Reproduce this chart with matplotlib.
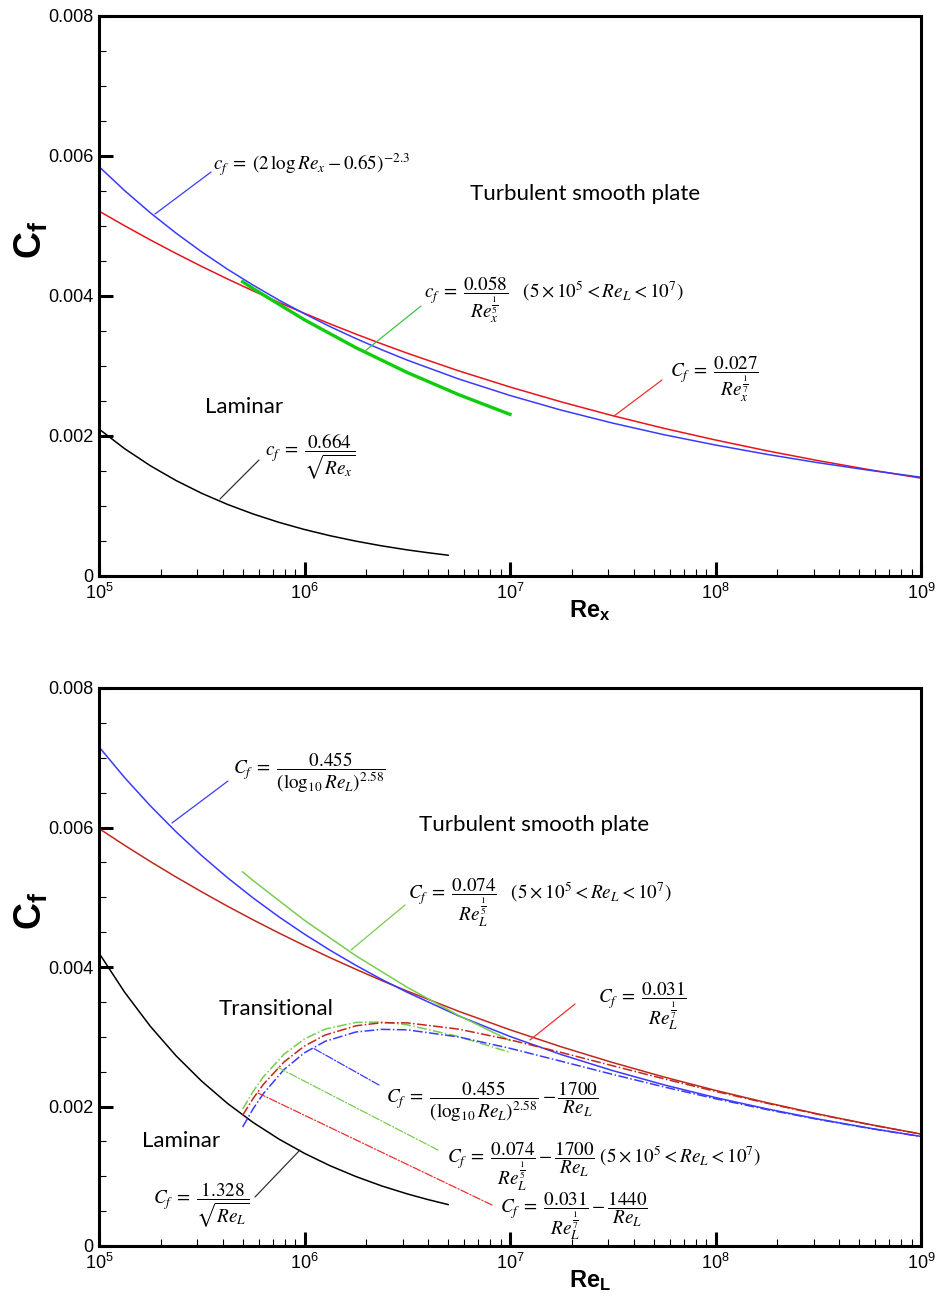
"""
Skin friction coefficient vs Reynolds number: local (top) and average (bottom).
"""
import numpy as np
import matplotlib
matplotlib.use("Agg")
import matplotlib.pyplot as plt
from matplotlib.ticker import LogLocator, MultipleLocator

plt.rcParams["font.family"] = ["Liberation Sans", "DejaVu Sans"]
plt.rcParams["mathtext.fontset"] = "custom"
plt.rcParams["mathtext.rm"] = "Liberation Sans"
plt.rcParams["mathtext.it"] = "Liberation Sans:italic"
plt.rcParams["mathtext.bf"] = "Liberation Sans:bold"

# ---- data (log10 Re, Cf) ----
LOG_RE_FULL = [5.0, 5.125, 5.25, 5.375, 5.5, 5.625, 5.75, 5.875, 6.0, 6.125, 6.25, 6.375,
               6.5, 6.75, 7.0, 7.25, 7.5, 7.75, 8.0, 8.25, 8.5, 8.75, 9.0]
LOG_RE_MID = [5.699, 5.75, 6.0, 6.25, 6.5, 6.75, 7.0]
LOG_RE_LAM = [5.0, 5.125, 5.25, 5.375, 5.5, 5.625, 5.75, 5.875, 6.0,
              6.125, 6.25, 6.375, 6.5, 6.6, 6.699]
LOG_RE_TR = [5.699, 5.75, 5.8, 5.9, 6.0, 6.1, 6.25, 6.375, 6.5, 6.75, 7.0,
             7.25, 7.5, 7.75, 8.0, 8.25, 8.5, 8.75, 9.0]

# top panel (local)
top_blue = [0.005849, 0.005505, 0.005188, 0.004898, 0.004630, 0.004383, 0.004155, 0.003942,
            0.003746, 0.003562, 0.003392, 0.003233, 0.003084, 0.002815, 0.002579,
            0.002369, 0.002184, 0.002018, 0.001871, 0.001738, 0.001618, 0.001510, 0.001411]
top_red = [0.005213, 0.005003, 0.004801, 0.004608, 0.004422, 0.004244, 0.004073, 0.003909,
           0.003752, 0.003601, 0.003456, 0.003317, 0.003183, 0.002931, 0.002700,
           0.002487, 0.002290, 0.002109, 0.001943, 0.001789, 0.001648, 0.001518, 0.001398]
top_green = [0.004204, 0.004106, 0.003660, 0.003262, 0.002907, 0.002591, 0.002309]
top_black = [0.002100, 0.001818, 0.001575, 0.001364, 0.001181, 0.001023, 0.000886, 0.000767, 0.000664,
             0.000575, 0.000498, 0.000431, 0.000373, 0.000333, 0.000297]

# bottom panel (average)
bot_blue = [0.007156, 0.006714, 0.006310, 0.005938, 0.005596, 0.005281, 0.004990, 0.004720,
            0.004471, 0.004239, 0.004024, 0.003823, 0.003637, 0.003299, 0.003004,
            0.002744, 0.002514, 0.002310, 0.002128, 0.001966, 0.001820, 0.001689, 0.001571]
bot_red = [0.005985, 0.005744, 0.005512, 0.005290, 0.005077, 0.004872, 0.004676, 0.004488,
           0.004307, 0.004133, 0.003967, 0.003807, 0.003654, 0.003365, 0.003100,
           0.002855, 0.002630, 0.002422, 0.002231, 0.002055, 0.001892, 0.001743, 0.001605]
bot_green = [0.005364, 0.005239, 0.004669, 0.004161, 0.003709, 0.003305, 0.002946]
bot_black = [0.004200, 0.003637, 0.003149, 0.002727, 0.002362, 0.002045, 0.001771, 0.001534, 0.001328,
             0.001150, 0.000996, 0.000862, 0.000747, 0.000666, 0.000594]
tr_blue = [0.001706, 0.001967, 0.002185, 0.002529, 0.002771, 0.002934, 0.003068, 0.003106, 0.003099,
           0.002997, 0.002834, 0.002648, 0.002460, 0.002280, 0.002111, 0.001956, 0.001815, 0.001686, 0.001569]
tr_red = [0.001875, 0.002115, 0.002318, 0.002638, 0.002867, 0.003024, 0.003157, 0.003201, 0.003199,
          0.003109, 0.002956, 0.002774, 0.002584, 0.002396, 0.002217, 0.002047, 0.001887, 0.001740, 0.001604]
tr_green = [0.001964, 0.002216, 0.002426, 0.002749, 0.002969, 0.003109, 0.003205, 0.003212, 0.003171,
            0.003003, 0.002776]


def re(logs):
    return 10.0 ** np.array(logs)


EQ = dict(fontsize=13.8, math_fontfamily="stix", va="baseline", ha="left")
WORD = dict(fontsize=16, family=["Lato", "DejaVu Sans"], ha="center", va="center")


def style_axes(ax, ylab, xlab):
    ax.set_xscale("log")
    ax.set_xlim(1e5, 1e9)
    ax.set_ylim(0, 0.008)
    ax.yaxis.set_minor_locator(MultipleLocator(0.0005))
    ax.xaxis.set_major_locator(LogLocator(base=10, numticks=10))
    ax.xaxis.set_minor_locator(LogLocator(base=10, subs=np.arange(2, 10), numticks=20))
    ax.set_yticks([0, 0.002, 0.004, 0.006, 0.008])
    ax.set_yticklabels(["0", "0.002", "0.004", "0.006", "0.008"])
    ax.tick_params(which="major", direction="in", length=10, width=2.2, labelsize=13,
                   top=False, right=False, pad=4)
    ax.tick_params(which="minor", direction="in", length=5, width=0.8, top=False, right=False)
    ax.tick_params(axis="x", which="major", labelsize=13, pad=5)
    for s in ax.spines.values():
        s.set_linewidth(2.2)
    ax.text(-0.082, 0.60, ylab, transform=ax.transAxes, rotation=90, fontsize=27,
            fontweight="bold", ha="center", va="center")
    ax.text(0.597, -0.062, xlab, transform=ax.transAxes, fontsize=17,
            fontweight="bold", ha="center", va="center")


def leader(ax, tip, end, color, ls="-"):
    ax.annotate("", xy=tip, xytext=end, xycoords="axes fraction", textcoords="axes fraction",
                arrowprops=dict(arrowstyle="-", color=color, lw=0.9, linestyle=ls,
                                shrinkA=0, shrinkB=0))


def main() -> None:
    fig = plt.figure(figsize=(9.4, 12.99), dpi=100)
    ax1 = fig.add_axes([99 / 940, 1 - 576 / 1299, 822 / 940, 560 / 1299])
    ax2 = fig.add_axes([99 / 940, 1 - 1246 / 1299, 822 / 940, 558 / 1299])

    # ---------- top: local skin friction ----------
    ax1.plot(re(LOG_RE_FULL), top_red, color="#e8141a", lw=1.1)
    ax1.plot(re(LOG_RE_FULL), top_blue, color="#3a3aff", lw=1.1)
    ax1.plot(re(LOG_RE_MID), top_green, color="#10cc10", lw=2.4)
    ax1.plot(re(LOG_RE_LAM), top_black, color="black", lw=1.1)
    style_axes(ax1, r"C$_\mathbf{f}$", r"Re$_\mathbf{x}$")

    leader(ax1, (0.0681, 0.6464), (0.1363, 0.7214), "#3a3aff")
    ax1.text(0.1387, 0.725, r"$c_f\;=\;(2\,\log Re_x-0.65)^{-2.3}$", transform=ax1.transAxes, **EQ)
    ax1.text(0.5912, 0.6821, "Turbulent smooth plate", transform=ax1.transAxes, **WORD)
    leader(ax1, (0.3236, 0.4018), (0.3917, 0.4821), "#44c044")
    ax1.text(0.3954, 0.4964,
             r"$c_f\;=\;\dfrac{0.058}{Re_x^{\frac{1}{5}}}\quad(5\times10^5<Re_L<10^7)$",
             transform=ax1.transAxes, **EQ)
    leader(ax1, (0.6265, 0.2857), (0.6849, 0.35), "#f03030")
    ax1.text(0.6946, 0.355, r"$C_f\;=\;\dfrac{0.027}{Re_x^{\frac{1}{7}}}$",
             transform=ax1.transAxes, **EQ)
    ax1.text(0.1764, 0.3018, "Laminar", transform=ax1.transAxes, **WORD)
    leader(ax1, (0.1472, 0.1375), (0.1946, 0.2071), "#333333")
    ax1.text(0.2019, 0.2143, r"$c_f\;=\;\dfrac{0.664}{\sqrt{Re_x}}$", transform=ax1.transAxes, **EQ)

    # ---------- bottom: average skin friction ----------
    ax2.plot(re(LOG_RE_FULL), bot_red, color="#c0281c", lw=1.1)
    ax2.plot(re(LOG_RE_FULL), bot_blue, color="#3a3aff", lw=1.1)
    ax2.plot(re(LOG_RE_MID), bot_green, color="#78cc50", lw=1.1)
    ax2.plot(re(LOG_RE_LAM), bot_black, color="black", lw=1.1)
    ax2.plot(re(LOG_RE_TR[:len(tr_green)]), tr_green, color="#78cc50", lw=1.1, ls="-.")
    ax2.plot(re(LOG_RE_TR), tr_red, color="#c0281c", lw=1.1, ls="-.")
    ax2.plot(re(LOG_RE_TR), tr_blue, color="#3a3aff", lw=1.1, ls="-.")
    style_axes(ax2, r"C$_\mathbf{f}$", r"Re$_\mathbf{L}$")

    leader(ax2, (0.0888, 0.7581), (0.1569, 0.8333), "#3a3aff")
    ax2.text(0.1630, 0.8459, r"$C_f\;=\;\dfrac{0.455}{(\log_{10}Re_L)^{2.58}}$",
             transform=ax2.transAxes, **EQ)
    ax2.text(0.5292, 0.7545, "Turbulent smooth plate", transform=ax2.transAxes, **WORD)
    leader(ax2, (0.3066, 0.5305), (0.3723, 0.6111), "#78cc50")
    ax2.text(0.3759, 0.6219,
             r"$C_f\;=\;\dfrac{0.074}{Re_L^{\frac{1}{5}}}\quad(5\times10^5<Re_L<10^7)$",
             transform=ax2.transAxes, **EQ)
    leader(ax2, (0.5243, 0.3692), (0.5791, 0.4337), "#f03030")
    ax2.text(0.6071, 0.4355, r"$C_f\;=\;\dfrac{0.031}{Re_L^{\frac{1}{7}}}$",
             transform=ax2.transAxes, **EQ)
    ax2.text(0.2153, 0.4247, "Transitional", transform=ax2.transAxes, **WORD)

    leader(ax2, (0.2603, 0.3548), (0.3406, 0.2885), "#3a3aff", "-.")
    ax2.text(0.3491, 0.2563,
             r"$C_f\;=\;\dfrac{0.455}{(\log_{10}Re_L)^{2.58}}-\dfrac{1700}{Re_L}$",
             transform=ax2.transAxes, **EQ)
    leader(ax2, (0.2165, 0.3208), (0.4124, 0.1720), "#78cc50", "-.")
    ax2.text(0.4234, 0.1487,
             r"$C_f\;=\;\dfrac{0.074}{Re_L^{\frac{1}{5}}}-\dfrac{1700}{Re_L}\ (5\times10^5<Re_L<10^7)$",
             transform=ax2.transAxes, **EQ)
    leader(ax2, (0.1934, 0.2742), (0.4781, 0.0735), "#f03030", "-.")
    ax2.text(0.4878, 0.0591,
             r"$C_f\;=\;\dfrac{0.031}{Re_L^{\frac{1}{7}}}-\dfrac{1440}{Re_L}$",
             transform=ax2.transAxes, **EQ)
    ax2.text(0.0998, 0.1882, "Laminar", transform=ax2.transAxes, **WORD)
    leader(ax2, (0.2445, 0.1720), (0.1898, 0.0878), "#333333")
    eq_black = dict(EQ, ha="right")
    ax2.text(0.1837, 0.0753, r"$C_f\;=\;\dfrac{1.328}{\sqrt{Re_L}}$",
             transform=ax2.transAxes, **eq_black)

    fig.savefig("out.png", dpi=100)
    plt.close(fig)


if __name__ == "__main__":
    main()
